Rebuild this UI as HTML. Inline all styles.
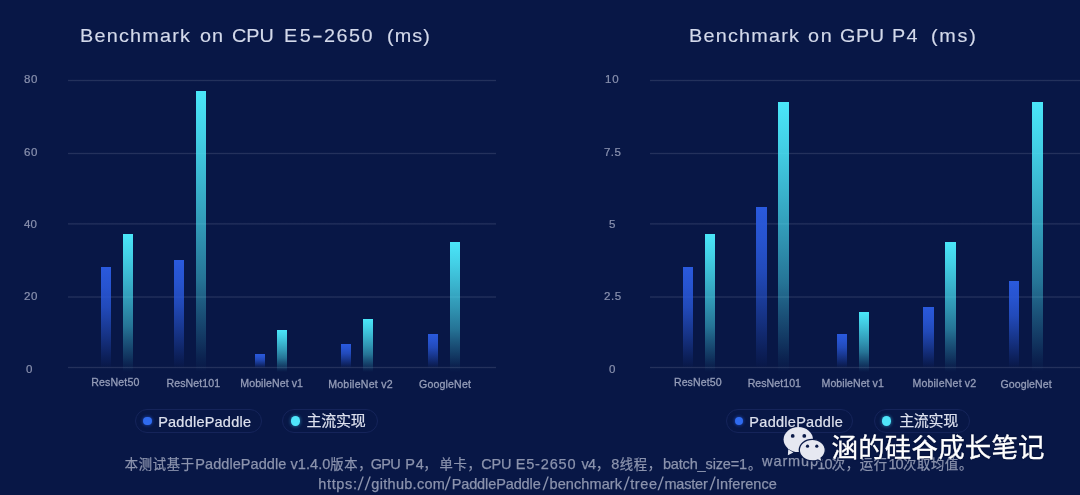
<!DOCTYPE html>
<html lang="zh"><head><meta charset="utf-8"><title>Benchmark</title>
<style>
html,body{margin:0;padding:0;overflow:hidden;background:#081746}
body{width:1080px;height:495px;font-family:"Liberation Sans","Noto Sans CJK SC",sans-serif;}
#chart{position:relative;width:1080px;height:495px;overflow:hidden;background:#081746}
i{display:block}
.w{position:absolute;white-space:pre}
.t{font-size:18.5px;line-height:24px;color:#d3d9ea;-webkit-text-stroke:.15px #d3d9ea;transform:scaleX(1.07);transform-origin:0 0;}
.y{font-size:10.5px;line-height:14px;color:#8991ae;-webkit-text-stroke:.2px #8991ae;transform:scaleX(1.1);transform-origin:0 0;}
.x{font-size:10.6px;line-height:14px;color:#959db8;-webkit-text-stroke:.3px #959db8;}
.l{font-size:14.5px;line-height:19px;color:#dde1ee;-webkit-text-stroke:.2px #dde1ee;}
.lc{font-size:15px;line-height:20px;color:#dde1ee;-webkit-text-stroke:.2px #dde1ee;font-family:"Noto Sans CJK SC","Liberation Sans",sans-serif;}
.f{font-size:14.5px;line-height:19px;color:#8b93ad;-webkit-text-stroke:.25px #8b93ad;}
.s{font-size:18.5px;line-height:24px;color:#8b93ad;transform:skewX(-5deg);}
.fc{font-size:13.3px;line-height:17px;color:#8b93ad;-webkit-text-stroke:.25px #8b93ad;letter-spacing:.7px;}
.wm{font-size:26.5px;line-height:34px;color:#fff;font-family:"Noto Sans CJK SC","Liberation Sans",sans-serif;-webkit-text-stroke:.35px #fff;text-shadow:0 0 2px rgba(0,0,20,.6);}
.g{position:absolute;height:5px}
.bar{position:absolute;width:10px}
.b{background:linear-gradient(to bottom,rgba(42,90,222,1.000) 0%,rgba(42,90,222,0.952) 8%,rgba(42,90,222,0.902) 20%,rgba(42,90,222,0.756) 40%,rgba(42,90,222,0.566) 56%,rgba(42,90,222,0.360) 72%,rgba(42,90,222,0.133) 89%,rgba(42,90,222,0.000) 100%)}
.c{background:linear-gradient(to bottom,rgba(74,230,249,1.000) 0%,rgba(74,230,249,0.894) 16%,rgba(74,230,249,0.766) 32%,rgba(74,230,249,0.613) 50%,rgba(74,230,249,0.447) 67%,rgba(74,230,249,0.329) 75%,rgba(74,230,249,0.235) 82%,rgba(74,230,249,0.142) 89%,rgba(74,230,249,0.053) 95%,rgba(74,230,249,0.000) 100%)}
.pill{position:absolute;top:409px;height:24px;border-radius:12px;border:1px solid #15245a;box-sizing:border-box}
.dot{position:absolute;border-radius:50%}
.d1{width:8.8px;height:8.8px;top:416.6px;background:#2f6bf0;box-shadow:0 0 3px 1px rgba(40,90,220,.45)}
.d2{width:9.4px;height:9.4px;top:416.3px;background:#4fe6fb;box-shadow:0 0 3px 1px rgba(60,200,240,.35)}
.wx{position:absolute;left:778px;top:422px}
</style></head><body><div id="chart">
<div><span class="w t" style="left:80.39px;top:24px;letter-spacing:1.15px;">Benchmark</span>
<span class="w t" style="left:199.60px;top:24px;letter-spacing:0.88px;">on</span>
<span class="w t" style="left:232.43px;top:24px;letter-spacing:-0.03px;">CPU</span>
<span class="w t" style="left:283.89px;top:24px;letter-spacing:2.27px;">E5</span><span class="w t" style="left:312.35px;top:24px;transform:scaleX(1.75);">-</span><span class="w t" style="left:323.53px;top:24px;letter-spacing:1.38px;">2650</span>
<span class="w t" style="left:386.66px;top:24px;letter-spacing:1.05px;">(ms)</span></div>
<div><span class="w t" style="left:689.39px;top:24px;letter-spacing:1.14px;">Benchmark</span>
<span class="w t" style="left:808.00px;top:24px;letter-spacing:1.62px;">on</span>
<span class="w t" style="left:840.43px;top:24px;letter-spacing:0.52px;">GPU</span>
<span class="w t" style="left:892.19px;top:24px;letter-spacing:1.18px;">P4</span>
<span class="w t" style="left:931.16px;top:24px;letter-spacing:1.65px;">(ms)</span></div>
<i class="g" style="left:68px;width:428px;top:78px;background:linear-gradient(rgba(235,238,255,0.000) 0px,rgba(235,238,255,0.000) 1px,rgba(235,238,255,0.016) 1px,rgba(235,238,255,0.016) 2px,rgba(235,238,255,0.122) 2px,rgba(235,238,255,0.122) 3px,rgba(235,238,255,0.016) 3px,rgba(235,238,255,0.016) 4px,rgba(235,238,255,0.000) 4px,rgba(235,238,255,0.000) 5px)"></i>
<i class="g" style="left:68px;width:428px;top:151px;background:linear-gradient(rgba(235,238,255,0.000) 0px,rgba(235,238,255,0.000) 1px,rgba(235,238,255,0.016) 1px,rgba(235,238,255,0.016) 2px,rgba(235,238,255,0.122) 2px,rgba(235,238,255,0.122) 3px,rgba(235,238,255,0.016) 3px,rgba(235,238,255,0.016) 4px,rgba(235,238,255,0.000) 4px,rgba(235,238,255,0.000) 5px)"></i>
<i class="g" style="left:68px;width:428px;top:221px;background:linear-gradient(rgba(235,238,255,0.000) 0px,rgba(235,238,255,0.000) 1px,rgba(235,238,255,0.002) 1px,rgba(235,238,255,0.002) 2px,rgba(235,238,255,0.091) 2px,rgba(235,238,255,0.091) 3px,rgba(235,238,255,0.062) 3px,rgba(235,238,255,0.062) 4px,rgba(235,238,255,0.000) 4px,rgba(235,238,255,0.000) 5px)"></i>
<i class="g" style="left:68px;width:428px;top:295px;background:linear-gradient(rgba(235,238,255,0.001) 0px,rgba(235,238,255,0.001) 1px,rgba(235,238,255,0.077) 1px,rgba(235,238,255,0.077) 2px,rgba(235,238,255,0.077) 2px,rgba(235,238,255,0.077) 3px,rgba(235,238,255,0.001) 3px,rgba(235,238,255,0.001) 4px,rgba(235,238,255,0.000) 4px,rgba(235,238,255,0.000) 5px)"></i>
<i class="g" style="left:68px;width:428px;top:365px;background:linear-gradient(rgba(235,238,255,0.000) 0px,rgba(235,238,255,0.000) 1px,rgba(235,238,255,0.016) 1px,rgba(235,238,255,0.016) 2px,rgba(235,238,255,0.122) 2px,rgba(235,238,255,0.122) 3px,rgba(235,238,255,0.016) 3px,rgba(235,238,255,0.016) 4px,rgba(235,238,255,0.000) 4px,rgba(235,238,255,0.000) 5px)"></i>
<i class="g" style="left:650px;width:430px;top:78px;background:linear-gradient(rgba(235,238,255,0.000) 0px,rgba(235,238,255,0.000) 1px,rgba(235,238,255,0.016) 1px,rgba(235,238,255,0.016) 2px,rgba(235,238,255,0.122) 2px,rgba(235,238,255,0.122) 3px,rgba(235,238,255,0.016) 3px,rgba(235,238,255,0.016) 4px,rgba(235,238,255,0.000) 4px,rgba(235,238,255,0.000) 5px)"></i>
<i class="g" style="left:650px;width:430px;top:151px;background:linear-gradient(rgba(235,238,255,0.000) 0px,rgba(235,238,255,0.000) 1px,rgba(235,238,255,0.016) 1px,rgba(235,238,255,0.016) 2px,rgba(235,238,255,0.122) 2px,rgba(235,238,255,0.122) 3px,rgba(235,238,255,0.016) 3px,rgba(235,238,255,0.016) 4px,rgba(235,238,255,0.000) 4px,rgba(235,238,255,0.000) 5px)"></i>
<i class="g" style="left:650px;width:430px;top:221px;background:linear-gradient(rgba(235,238,255,0.000) 0px,rgba(235,238,255,0.000) 1px,rgba(235,238,255,0.002) 1px,rgba(235,238,255,0.002) 2px,rgba(235,238,255,0.091) 2px,rgba(235,238,255,0.091) 3px,rgba(235,238,255,0.062) 3px,rgba(235,238,255,0.062) 4px,rgba(235,238,255,0.000) 4px,rgba(235,238,255,0.000) 5px)"></i>
<i class="g" style="left:650px;width:430px;top:295px;background:linear-gradient(rgba(235,238,255,0.001) 0px,rgba(235,238,255,0.001) 1px,rgba(235,238,255,0.077) 1px,rgba(235,238,255,0.077) 2px,rgba(235,238,255,0.077) 2px,rgba(235,238,255,0.077) 3px,rgba(235,238,255,0.001) 3px,rgba(235,238,255,0.001) 4px,rgba(235,238,255,0.000) 4px,rgba(235,238,255,0.000) 5px)"></i>
<i class="g" style="left:650px;width:430px;top:365px;background:linear-gradient(rgba(235,238,255,0.000) 0px,rgba(235,238,255,0.000) 1px,rgba(235,238,255,0.016) 1px,rgba(235,238,255,0.016) 2px,rgba(235,238,255,0.122) 2px,rgba(235,238,255,0.122) 3px,rgba(235,238,255,0.016) 3px,rgba(235,238,255,0.016) 4px,rgba(235,238,255,0.000) 4px,rgba(235,238,255,0.000) 5px)"></i>
<i class="bar b" style="left:101px;top:267px;height:101px"></i>
<i class="bar c" style="left:123px;top:234px;height:138px"></i>
<i class="bar b" style="left:174px;top:260px;height:108px"></i>
<i class="bar c" style="left:196px;top:91px;height:281px"></i>
<i class="bar b" style="left:255px;top:354px;height:14px"></i>
<i class="bar c" style="left:277px;top:330px;height:42px"></i>
<i class="bar b" style="left:341px;top:344px;height:24px"></i>
<i class="bar c" style="left:363px;top:319px;height:53px"></i>
<i class="bar b" style="left:428px;top:334px;height:34px"></i>
<i class="bar c" style="left:450px;top:242px;height:130px"></i>
<i class="bar b" style="left:683px;top:267px;height:101px"></i>
<i class="bar c" style="left:705px;top:234px;height:138px"></i>
<i class="bar b" style="left:756px;top:207px;height:161px;width:11px"></i>
<i class="bar c" style="left:778px;top:102px;height:270px;width:11px"></i>
<i class="bar b" style="left:837px;top:334px;height:34px"></i>
<i class="bar c" style="left:859px;top:312px;height:60px"></i>
<i class="bar b" style="left:923px;top:307px;height:61px;width:11px"></i>
<i class="bar c" style="left:945px;top:242px;height:130px;width:11px"></i>
<i class="bar b" style="left:1009px;top:281px;height:87px"></i>
<i class="bar c" style="left:1032px;top:102px;height:270px;width:11px"></i>
<div><span class="w y" style="left:24.05px;top:72px;letter-spacing:0.43px;">80</span>
<span class="w y" style="left:24.05px;top:145px;letter-spacing:0.43px;">60</span>
<span class="w y" style="left:24.33px;top:217px;letter-spacing:0.18px;">40</span>
<span class="w y" style="left:24.05px;top:289px;letter-spacing:0.43px;">20</span>
<span class="w y" style="left:26.45px;top:362px;">0</span></div>
<div><span class="w y" style="left:605.38px;top:72px;letter-spacing:0.77px;">10</span>
<span class="w y" style="left:603.85px;top:145px;letter-spacing:0.40px;">7.5</span>
<span class="w y" style="left:609.00px;top:217px;">5</span>
<span class="w y" style="left:603.65px;top:289px;letter-spacing:0.49px;">2.5</span>
<span class="w y" style="left:609.00px;top:362px;">0</span></div>
<div><span class="w x" style="left:91.15px;top:375px;letter-spacing:0.17px;">ResNet50</span>
<span class="w x" style="left:166.45px;top:376px;letter-spacing:0.08px;">ResNet101</span>
<span class="w x" style="left:240.25px;top:376px;letter-spacing:0.08px;">MobileNet v1</span>
<span class="w x" style="left:328.15px;top:377px;letter-spacing:0.24px;">MobileNet v2</span>
<span class="w x" style="left:419.00px;top:377px;letter-spacing:0.16px;">GoogleNet</span></div>
<div><span class="w x" style="left:673.95px;top:375px;letter-spacing:0.07px;">ResNet50</span>
<span class="w x" style="left:747.65px;top:376px;letter-spacing:0.04px;">ResNet101</span>
<span class="w x" style="left:821.55px;top:376px;letter-spacing:0.04px;">MobileNet v1</span>
<span class="w x" style="left:912.45px;top:376px;letter-spacing:0.18px;">MobileNet v2</span>
<span class="w x" style="left:1000.40px;top:377px;letter-spacing:0.09px;">GoogleNet</span></div>
<i class="pill" style="left:135px;width:127px"></i><i class="dot d1" style="left:143.2px"></i><span class="w l" style="left:158.15px;top:413px;letter-spacing:0.23px;">PaddlePaddle</span>
<i class="pill" style="left:282px;width:96px"></i><i class="dot d2" style="left:290.6px"></i><span class="w lc" style="left:306.55px;top:410px;letter-spacing:-0.27px;">主流实现</span>
<i class="pill" style="left:726px;width:127px"></i><i class="dot d1" style="left:734.5px"></i><span class="w l" style="left:749.35px;top:413px;letter-spacing:0.28px;">PaddlePaddle</span>
<i class="pill" style="left:874px;width:96px"></i><i class="dot d2" style="left:881.8px"></i><span class="w lc" style="left:899.15px;top:410px;letter-spacing:-0.30px;">主流实现</span>
<div><span class="w fc" style="left:124.80px;top:456px;">本测试基于</span><span class="w f" style="left:195.25px;top:455px;letter-spacing:0.07px;">PaddlePaddle</span>
<span class="w f" style="left:290.55px;top:455px;letter-spacing:0.05px;">v1.4.0</span><span class="w fc" style="left:330.30px;top:456px;">版本，</span><span class="w f" style="left:370.75px;top:455px;letter-spacing:-0.75px;">GPU</span>
<span class="w f" style="left:405.35px;top:455px;letter-spacing:0.70px;">P4</span><span class="w fc" style="left:423.55px;top:456px;">，</span><span class="w fc" style="left:439.55px;top:456px;">单卡，</span><span class="w f" style="left:481.15px;top:455px;letter-spacing:-0.17px;">CPU</span>
<span class="w f" style="left:515.65px;top:455px;letter-spacing:0.85px;">E5-2650</span>
<span class="w f" style="left:581.45px;top:455px;letter-spacing:-0.65px;">v4</span><span class="w fc" style="left:596.05px;top:456px;">，</span><span class="w f" style="left:611.25px;top:455px;">8</span><span class="w fc" style="left:619.75px;top:456px;">线程，</span><span class="w f" style="left:662.90px;top:455px;letter-spacing:-0.15px;">batch_size=1</span><span class="w fc" style="left:748.00px;top:456px;">。</span><span class="w f" style="left:762.00px;top:452px;letter-spacing:0.92px;">warmup</span><span class="w f" style="left:817.30px;top:455px;letter-spacing:-0.80px;">10</span><span class="w fc" style="left:831.85px;top:456px;">次，运行</span><span class="w f" style="left:888.60px;top:455px;letter-spacing:-1.10px;">10</span><span class="w fc" style="left:903.05px;top:456px;">次取均值。</span></div>
<div><span class="w f" style="left:318.30px;top:475px;letter-spacing:0.65px;">https:</span><span class="w s" style="left:357.60px;top:472px;">/</span><span class="w s" style="left:364.70px;top:472px;">/</span><span class="w f" style="left:371.30px;top:475px;letter-spacing:0.30px;">github.com</span><span class="w s" style="left:445.30px;top:472px;">/</span><span class="w f" style="left:451.65px;top:475px;letter-spacing:-0.11px;">PaddlePaddle</span><span class="w s" style="left:543.00px;top:472px;">/</span><span class="w f" style="left:549.50px;top:475px;letter-spacing:0.09px;">benchmark</span><span class="w s" style="left:623.50px;top:472px;">/</span><span class="w f" style="left:630.25px;top:475px;letter-spacing:0.57px;">tree</span><span class="w s" style="left:658.20px;top:472px;">/</span><span class="w f" style="left:664.50px;top:475px;letter-spacing:-0.22px;">master</span><span class="w s" style="left:709.80px;top:472px;">/</span><span class="w f" style="left:716.05px;top:475px;letter-spacing:0.04px;">Inference</span></div>
<svg class="wx" width="52" height="44" viewBox="778 422 52 44">
<g fill="#e6e8f1">
<ellipse cx="798.3" cy="439.6" rx="14.7" ry="12.5"/>
<path d="M788.2 449.2 L787.9 455.3 L793.4 452.4z"/>
</g>
<g fill="#e6e8f1" stroke="#0b1a48" stroke-width="1.3">
<path d="M812.3 439.300c7.200 0 13 4.800 13 10.800 0 3.200-1.600 6-4.200 8l1.200 4-4.600-2.100c-1.700.6-3.500.9-5.400.9-7.200 0-13-4.800-13-10.800s5.800-10.800 13-10.800z"/>
</g>
<g fill="#0b1a48">
<circle cx="792.7" cy="435.9" r="1.900"/><circle cx="804.3" cy="435.9" r="1.900"/>
<circle cx="807.5" cy="446.2" r="1.600"/><circle cx="816.8" cy="446.2" r="1.600"/>
</g></svg>
<div><span class="w wm" style="left:831.60px;top:429px;letter-spacing:0.14px;">涵的硅谷成长笔记</span></div>
</div></body></html>
